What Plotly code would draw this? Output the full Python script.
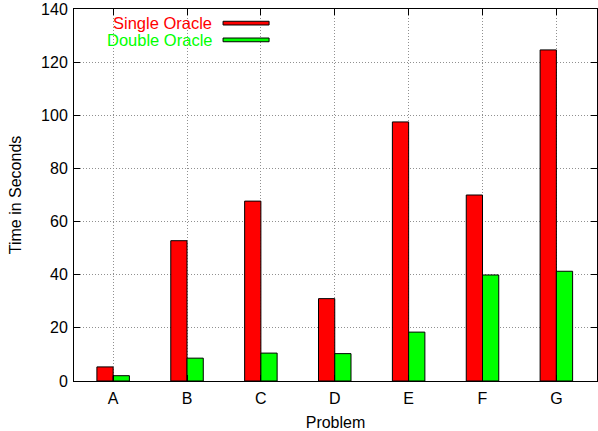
import plotly.graph_objects as go

problems = ["A", "B", "C", "D", "E", "F", "G"]
single_oracle = [5.3, 52.8, 67.7, 31.0, 97.5, 70.0, 124.6]
double_oracle = [2.0, 8.6, 10.5, 10.3, 18.4, 39.9, 41.3]
y_ticks = [0, 20, 40, 60, 80, 100, 120, 140]

FONT = "Liberation Sans, Arial, Helvetica, sans-serif"
x_pos = list(range(len(problems)))

fig = go.Figure()
fig.add_trace(go.Bar(x=x_pos, y=single_oracle, name="Single Oracle",
                     width=0.22, offset=-0.22,
                     marker=dict(color="#ff0000", line=dict(color="black", width=1))))
fig.add_trace(go.Bar(x=x_pos, y=double_oracle, name="Double Oracle",
                     width=0.22, offset=0.0,
                     marker=dict(color="#00ff00", line=dict(color="black", width=1))))

axis_common = dict(showline=True, linecolor="black", linewidth=1, mirror="allticks",
                   ticks="inside", ticklen=6, tickcolor="black", automargin=False,
                   showgrid=True, gridcolor="#909090", griddash="1px,2px", gridwidth=1,
                   zeroline=False, tickfont=dict(family=FONT, size=16, color="black"))

fig.update_layout(
    width=598, height=431,
    margin=dict(l=74, r=1, t=9, b=50),
    paper_bgcolor="white", plot_bgcolor="white",
    showlegend=False,
    font=dict(family=FONT, size=16, color="black"),
    xaxis=dict(axis_common, tickmode="array", tickvals=x_pos, ticktext=problems,
               range=[-0.53, 6.55], ticklabelstandoff=3,
               title=dict(text="Problem", font=dict(family=FONT, size=16), standoff=11)),
    yaxis=dict(axis_common, tickmode="array", tickvals=y_ticks, range=[0, 140],
               ticklabelstandoff=2,
               title=dict(text="Time in Seconds", font=dict(family=FONT, size=16), standoff=15)),
)

# legend (gnuplot style: text then sample)
legend_items = [("Single Oracle", "#ff0000", 0.962), ("Double Oracle", "#00ff00", 0.917)]
for label, color, yy in legend_items:
    fig.add_annotation(xref="paper", yref="paper", x=0.268, y=yy, text=label,
                       showarrow=False, xanchor="right", yanchor="middle",
                       font=dict(family=FONT, size=16.5, color=color))
    fig.add_shape(type="rect", xref="paper", yref="paper",
                  x0=0.285, x1=0.373, y0=yy - 0.005, y1=yy + 0.005,
                  fillcolor=color, line=dict(color="black", width=1))

fig.write_html("out.html", default_width="598px", default_height="431px",
               config={"responsive": False, "displayModeBar": False},
               post_script="document.body.style.margin='0';document.body.style.overflow='hidden';")
